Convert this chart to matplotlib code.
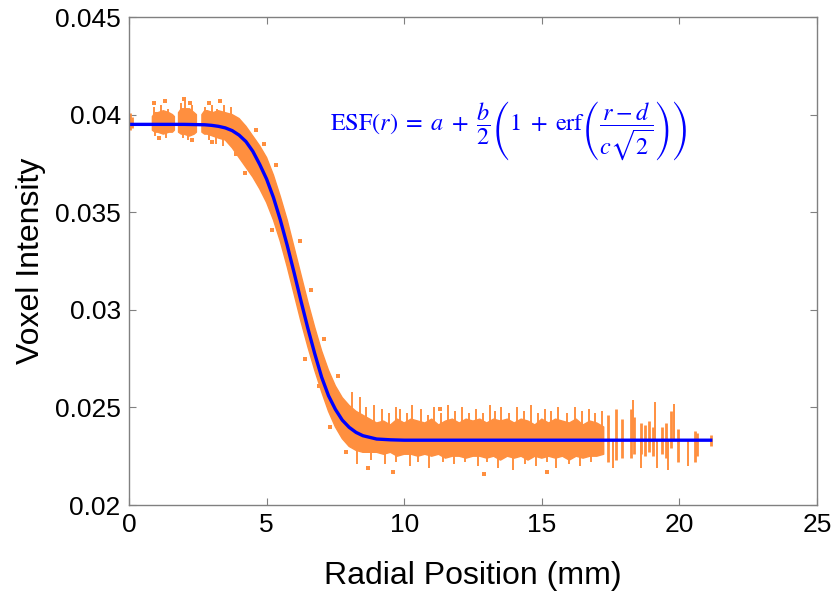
import numpy as np
import matplotlib.pyplot as plt

# fitted ESF curve (blue line)
fit_r = [0.0, 2.0, 2.75, 3.0, 3.25, 3.5, 3.75, 4.0, 4.25, 4.5, 4.75, 5.0, 5.25,
         5.5, 5.75, 6.0, 6.25, 6.5, 6.75, 7.0, 7.25, 7.5, 7.75, 8.0, 8.25,
         8.5, 9.0, 9.5, 10.0, 21.2]
fit_v = [0.0395, 0.0395, 0.03948, 0.03945, 0.0394, 0.03932, 0.03918, 0.03895,
         0.03862, 0.03812, 0.03745, 0.0367, 0.03575, 0.0346, 0.0333, 0.0319,
         0.03045, 0.02905, 0.02775, 0.02655, 0.0256, 0.0249, 0.02435, 0.02398,
         0.02372, 0.02355, 0.02338, 0.02334, 0.02332, 0.02332]

# dense band of measured voxels: upper / lower edge (nan = gap in the data)
band_r = [0.85, 0.95, 1.05, 1.25, 1.45, 1.58, 1.65, 1.72,
          1.8, 1.9, 2.0, 2.2, 2.37, 2.45, 2.55,
          2.65, 2.75, 2.85, 3.05, 3.25, 3.5, 3.75, 4.0, 4.25, 4.5, 4.75, 5.0,
          5.25, 5.5, 5.75, 6.0, 6.25, 6.5, 6.75, 7.0, 7.25, 7.5, 7.75, 8.0,
          8.25, 8.5,
          8.75, 9.0, 9.25, 9.5, 9.75, 10.0, 10.25, 10.5, 10.75, 11.0, 11.25,
          11.5, 11.75, 12.0, 12.25, 12.5, 12.75, 13.0, 13.25, 13.5, 13.75, 14.0,
          14.25, 14.5, 14.75, 15.0, 15.25, 15.5, 15.75, 16.0, 16.25, 16.5,
          16.75, 17.0, 17.25]
band_hi = [0.0399, 0.0401, 0.0401, 0.0402, 0.0401, 0.0400, 0.0399, np.nan,
           0.0401, 0.0403, 0.0403, 0.0403, 0.0401, 0.0400, np.nan,
           0.0400, 0.0402, 0.0402, 0.0401, 0.0402, 0.0401, 0.0400, 0.0398,
           0.0394, 0.0389, 0.0384, 0.0378, 0.0369, 0.0358, 0.0346, 0.0332,
           0.0318, 0.0304, 0.0291, 0.0279, 0.0269, 0.0261, 0.0255, 0.0251,
           0.0248, 0.0246,
           0.0244, 0.0242, 0.0243, 0.0241, 0.0244, 0.0242, 0.0244, 0.0243,
           0.0242, 0.0244, 0.0241, 0.0243, 0.0244, 0.0242, 0.0244, 0.0243,
           0.0244, 0.0242, 0.0244, 0.0243, 0.0244, 0.0242, 0.0244, 0.0243,
           0.0241, 0.0244, 0.0242, 0.0244, 0.0243, 0.0242, 0.0244, 0.0241,
           0.0243, 0.0242, 0.0240]
band_lo = [0.0392, 0.0391, 0.0391, 0.0390, 0.0391, 0.0391, 0.0392, np.nan,
           0.0391, 0.0390, 0.0390, 0.0389, 0.0390, 0.0391, np.nan,
           0.0391, 0.0390, 0.0390, 0.0389, 0.0388, 0.0387, 0.0383, 0.0378,
           0.0373, 0.0368, 0.0362, 0.0355, 0.0346, 0.0335, 0.0322, 0.0308,
           0.0294, 0.0281, 0.0269, 0.0258, 0.0248, 0.0240, 0.0234, 0.0230,
           0.0228, 0.0227,
           0.0227, 0.0227, 0.0226, 0.0227, 0.0225, 0.0226, 0.0226, 0.0225,
           0.0226, 0.0225, 0.0226, 0.0224, 0.0225, 0.0225, 0.0224, 0.0225,
           0.0225, 0.0224, 0.0225, 0.0223, 0.0225, 0.0224, 0.0225, 0.0223,
           0.0225, 0.0224, 0.0225, 0.0224, 0.0225, 0.0223, 0.0225, 0.0224,
           0.0225, 0.0225, 0.0226]

# isolated streaks of points (start of profile and the sparse far end)
streak_r = [0.05, 0.12, 17.4, 17.7, 17.9, 18.25, 18.35, 18.6, 18.75, 18.9,
            19.05, 19.35, 19.5, 19.7, 19.95, 20.55, 20.65, 21.15]
streak_lo = [0.0392, 0.0393, 0.0222, 0.0223, 0.0224, 0.0224, 0.0226, 0.0226,
             0.0225, 0.0227, 0.0225, 0.0226, 0.0224, 0.0229, 0.0222, 0.0222,
             0.0225, 0.0230]
streak_hi = [0.0401, 0.0399, 0.0246, 0.0249, 0.0244, 0.0249, 0.0245, 0.0242,
             0.0241, 0.0243, 0.0240, 0.0240, 0.0242, 0.0248, 0.0239, 0.0238,
             0.0237, 0.0236]

# spikes sticking out of the band
spike_up_r = [0.9, 1.15, 1.4, 1.9, 2.05, 2.3, 2.75, 3.0, 3.2, 3.45, 3.7,
              8.1, 8.4, 8.6, 8.9, 9.2, 9.45, 9.7, 9.85, 10.1, 10.3, 10.6,
              10.85, 11.1, 11.35, 11.6, 11.85, 12.1, 12.35, 12.6, 12.85, 13.1,
              13.3, 13.5, 13.8, 14.1, 14.35, 14.6, 14.85, 15.1, 15.35, 15.6,
              15.9, 16.2, 16.45, 16.7, 16.95, 17.2, 18.3, 19.1, 19.8]
spike_up_v = [0.0404, 0.0405, 0.0403, 0.0406, 0.0407, 0.0405, 0.0404,
              0.0405, 0.0403, 0.0405, 0.0404,
              0.0258, 0.02555, 0.0250, 0.0251, 0.0249, 0.0247, 0.0250,
              0.0249, 0.0247, 0.0251, 0.0249, 0.0246, 0.0250, 0.0247,
              0.0251, 0.0248, 0.0250, 0.0247, 0.0249, 0.0247, 0.0251,
              0.0248, 0.0250, 0.0247, 0.0250, 0.0248, 0.0251, 0.0247,
              0.0249, 0.0248, 0.0250, 0.0247, 0.0250, 0.0248, 0.0249,
              0.0247, 0.0248, 0.0254, 0.0253, 0.0252]
spike_dn_r = [0.95, 1.35, 1.95, 2.15, 2.9, 3.15, 3.4,
              8.3, 8.8, 9.3, 9.7, 10.2, 10.5, 10.9, 11.4, 11.8, 12.2, 12.7,
              13.0, 13.4, 13.95, 14.4, 14.8, 15.2, 15.5, 16.0, 16.4, 16.8,
              17.6, 18.6, 19.2, 19.6, 20.3]
spike_dn_v = [0.0389, 0.0388, 0.0388, 0.0387, 0.0387, 0.0385, 0.0384,
              0.0221, 0.0223, 0.0221, 0.0222, 0.0220, 0.0222, 0.0219,
              0.0222, 0.0221, 0.0222, 0.0220, 0.0222, 0.0219, 0.0218,
              0.0221, 0.0220, 0.0222, 0.0219, 0.0221, 0.0220, 0.0222,
              0.0219, 0.0219, 0.0219, 0.0218, 0.0220]

# stray single points
stray_r = [0.9, 1.3, 2.0, 2.2, 2.9, 3.3, 1.1, 2.3, 3.0, 4.6, 5.35, 5.2, 6.2,
           6.9, 7.6, 7.3, 7.9, 9.6, 12.9, 15.2, 11.3, 8.7, 4.2, 4.9, 5.9, 6.6,
           7.1, 6.4, 3.9]
stray_v = [0.0406, 0.0407, 0.0408, 0.0406, 0.0406, 0.0407, 0.0388, 0.0387,
           0.0386, 0.0392, 0.0374, 0.0341, 0.0335, 0.0261, 0.0266, 0.0240,
           0.0227, 0.0217, 0.0216, 0.0217, 0.0249, 0.0219, 0.0370, 0.0385,
           0.0318, 0.0310, 0.0285, 0.0275, 0.0380]

orange = '#FF8F3F'

plt.rcParams['font.family'] = ['Liberation Sans', 'DejaVu Sans']
plt.rcParams['mathtext.fontset'] = 'stix'

fig = plt.figure(figsize=(8.37, 5.97), dpi=100)
ax = fig.add_axes([0.1541, 0.1541, 0.822, 0.8174])

ax.fill_between(band_r, band_lo, band_hi, color=orange, lw=1.0,
                edgecolor=orange)
ax.vlines(streak_r, streak_lo, streak_hi, color=orange, lw=2.0)
base_up = np.interp(spike_up_r, fit_r, fit_v)
ax.vlines(spike_up_r, base_up, spike_up_v, color=orange, lw=1.4)
base_dn = np.interp(spike_dn_r, fit_r, fit_v)
ax.vlines(spike_dn_r, spike_dn_v, base_dn, color=orange, lw=1.4)
ax.plot(stray_r, stray_v, 's', color=orange, ms=2.2, mew=0)

ax.plot(fit_r, fit_v, color='#0000FF', lw=2.4, solid_capstyle='butt')

ax.text(7.3, 0.0392,
        r'$\mathrm{ESF}(r)\;=\;a\;+\;\dfrac{b}{2}\left(1\;+\;\mathrm{erf}'
        r'\left(\dfrac{r-d}{c\sqrt{2}}\right)\right)$',
        color='#0000FF', fontsize=17.5, va='center', ha='left')

ax.set_xlim(0, 25)
ax.set_ylim(0.02, 0.045)
ax.set_xticks([0, 5, 10, 15, 20, 25])
ax.set_yticks([0.02, 0.025, 0.03, 0.035, 0.04, 0.045])
ax.set_yticklabels(['0.02', '0.025', '0.03', '0.035', '0.04', '0.045'])
ax.tick_params(direction='in', length=5, width=0.8, color='#808080',
               labelsize=19, top=True, right=True, pad=6)
for s in ax.spines.values():
    s.set_color('#808080')
    s.set_linewidth(1.0)

ax.set_xlabel('Radial Position (mm)', fontsize=23, labelpad=17)
ax.set_ylabel('Voxel Intensity', fontsize=23, labelpad=6)

fig.savefig('out.png', dpi=100)
